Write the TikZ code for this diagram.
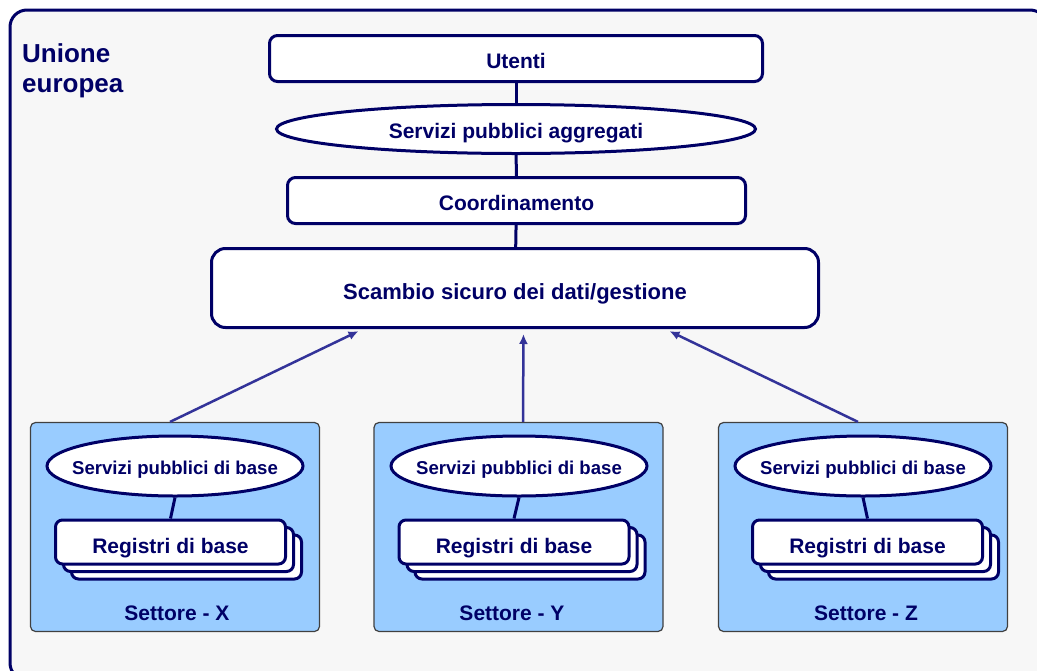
\documentclass[tikz,border=0pt]{standalone}
\usepackage{fontspec}
\setmainfont{Liberation Sans}
\usetikzlibrary{shapes.geometric,arrows.meta}
\definecolor{navy}{HTML}{000066}
\definecolor{arrowblue}{HTML}{333399}
\definecolor{panel}{HTML}{F7F7F7}
\definecolor{sector}{HTML}{99CCFF}
\definecolor{sectorline}{HTML}{404040}

\begin{document}
\begin{tikzpicture}[x=1pt,y=-1pt,
  lbl/.style={text=navy,inner sep=0pt,font=\bfseries\fontsize{21}{25}\selectfont},
  roundbox/.style={lbl,draw=navy,line width=3pt,fill=white,rounded corners=8pt,
    text height=20pt,text depth=0pt},
  oval/.style={lbl,ellipse,draw=navy,line width=3pt,fill=white},
  regbox/.style={roundbox,rounded corners=7pt,minimum width=230pt,minimum height=44pt,
    text height=23pt},
  sectorbox/.style={draw=sectorline,line width=1.2pt,fill=sector,rounded corners=5pt,
    minimum width=289pt,minimum height=209pt},
  link/.style={draw=navy,line width=3pt},
  feed/.style={draw=arrowblue,line width=2.5pt,-{Latex[length=10pt,width=9pt]},shorten >=5pt},
]
\useasboundingbox (0,0) rectangle (1037,670);
\fill[white] (0,0) rectangle (1037,670);
% outer frame of the union
\draw[navy,line width=3pt,fill=panel,rounded corners=17pt] (10,10) rectangle (1047,680);
\node[lbl,anchor=north west,align=left,font=\bfseries\fontsize{26}{30}\selectfont]
  (union) at (22,43) {Unione\\europea};

% central chain
\node[roundbox,minimum width=493pt,minimum height=46pt] (utenti) at (516,58.5) {Utenti};
\node[oval,minimum width=479pt,minimum height=49pt,text height=18pt,text depth=0pt]
  (aggr) at (516,129) {Servizi pubblici aggregati};
\node[roundbox,minimum width=458pt,minimum height=46pt] (coord) at (516.5,200.5) {Coordinamento};
\node[roundbox,rounded corners=14pt,minimum width=607pt,minimum height=79pt,text height=23pt,
  font=\bfseries\fontsize{22}{26}\selectfont] (scambio) at (515,288) {Scambio sicuro dei dati/gestione};

\draw[link] (utenti) -- (aggr);
\draw[link] (aggr) -- (coord);
\draw[link] (coord) -- (scambio);

% sectors
\foreach \s/\bx/\ex/\rx/\lx in {X/175/175/170.5/177, Y/518.5/519/514/512, Z/863/863/867.5/866} {
  \node[sectorbox] (sec\s) at (\bx,527) {};
  \node[oval,minimum width=256pt,minimum height=60pt,text height=17pt,text depth=0pt,
    font=\bfseries\fontsize{18.6}{22}\selectfont] (svc\s) at (\ex,466)
    {\makebox[0pt]{Servizi pubblici di base}};
  \node[regbox] (reg\s b) at (\rx+16,557) {};
  \node[regbox] (reg\s a) at (\rx+8,549.5) {};
  \node[regbox] (reg\s) at (\rx,542) {Registri di base};
  \draw[link] (svc\s.south) -- (reg\s.north);
  \node[lbl] (lab\s) at (\lx,613) {Settore - \s};
}

% data flows into the secure exchange
\draw[feed] ([xshift=-5pt]secX.north) -- ([xshift=-152pt]scambio.south);
\draw[feed] ([xshift=4.5pt]secY.north) -- ([xshift=8.5pt]scambio.south);
\draw[feed] ([xshift=-5pt]secZ.north) -- ([xshift=150pt]scambio.south);
\end{tikzpicture}
\end{document}
